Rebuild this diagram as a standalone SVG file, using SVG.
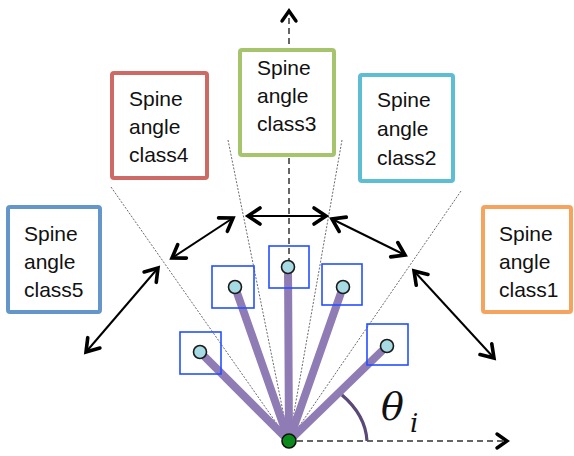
<svg xmlns="http://www.w3.org/2000/svg" width="574" height="456" viewBox="0 0 574 456">
  <style>
    .cls { fill: #ffffff; stroke-width: 4; }
    .lbl { font-family: "Liberation Sans", Arial, sans-serif; font-size: 21px; fill: #111111; }
    .dot { stroke: #444444; stroke-width: 0.8; stroke-dasharray: 2 1.5; fill: none; }
    .spoke { stroke: #8f7cb4; stroke-width: 8; stroke-linecap: round; }
    .bbox { fill: none; stroke: #2350ff; stroke-width: 1.6; }
    .tip { fill: #a7dbe4; stroke: #1a1a1a; stroke-width: 1.6; }
    .dbl { stroke: #000000; stroke-width: 2; fill: none; marker-start: url(#chev); marker-end: url(#chev); }
    .dash { stroke: #333333; stroke-width: 1.5; stroke-dasharray: 6 4; fill: none; marker-end: url(#chev2); }
  </style>
  <defs>
    <marker id="chev" markerUnits="userSpaceOnUse" markerWidth="24" markerHeight="24" viewBox="-16 -12 18 24" refX="0" refY="0" orient="auto-start-reverse">
      <path d="M -12 -8 L 0 0 L -12 8" fill="none" stroke="#000" stroke-width="3.6" stroke-linejoin="miter" stroke-linecap="round"/>
    </marker>
    <marker id="chev2" markerUnits="userSpaceOnUse" markerWidth="20" markerHeight="20" viewBox="-14 -10 16 20" refX="0" refY="0" orient="auto">
      <path d="M -10 -7 L 0 0 L -10 7" fill="none" stroke="#000" stroke-width="3.4" stroke-linejoin="miter" stroke-linecap="round"/>
    </marker>
  </defs>

  <!-- guide lines -->
  <g id="guides">
    <line class="dot" x1="111" y1="187" x2="289" y2="441"/>
    <line class="dot" x1="228" y1="140" x2="289" y2="441"/>
    <line class="dot" x1="342" y1="140" x2="289" y2="441"/>
    <line class="dot" x1="461" y1="191" x2="289" y2="441"/>
  </g>

  <!-- axes -->
  <g id="axes">
    <line class="dash" x1="289" y1="434" x2="289" y2="11"/>
    <line class="dash" x1="297" y1="441" x2="507" y2="441"/>
  </g>

  <!-- class boxes -->
  <g id="class4">
    <rect class="cls" x="112" y="73" width="95" height="105" rx="2" stroke="#cd6a66"/>
    <text class="lbl" x="129" y="106">Spine</text>
    <text class="lbl" x="129" y="134">angle</text>
    <text class="lbl" x="129" y="162">class4</text>
  </g>
  <g id="class3">
    <rect class="cls" x="240" y="50" width="94" height="105" rx="2" stroke="#a6c46c"/>
    <text class="lbl" x="257" y="75">Spine</text>
    <text class="lbl" x="257" y="103">angle</text>
    <text class="lbl" x="257" y="131">class3</text>
  </g>
  <g id="class2">
    <rect class="cls" x="360" y="75" width="93" height="106" rx="2" stroke="#5dbdd2"/>
    <text class="lbl" x="377" y="107">Spine</text>
    <text class="lbl" x="377" y="136">angle</text>
    <text class="lbl" x="377" y="165">class2</text>
  </g>
  <g id="class5">
    <rect class="cls" x="8" y="207" width="92" height="105" rx="2" stroke="#6596c9"/>
    <text class="lbl" x="24" y="241">Spine</text>
    <text class="lbl" x="24" y="269">angle</text>
    <text class="lbl" x="24" y="297">class5</text>
  </g>
  <g id="class1">
    <rect class="cls" x="483" y="207" width="88" height="105" rx="2" stroke="#f6a45d"/>
    <text class="lbl" x="499" y="241">Spine</text>
    <text class="lbl" x="499" y="269">angle</text>
    <text class="lbl" x="499" y="297">class1</text>
  </g>

  <!-- double arrows -->
  <g id="connectors">
    <line class="dbl" x1="248" y1="216" x2="326" y2="216"/>
    <line class="dbl" x1="172" y1="258" x2="233" y2="218"/>
    <line class="dbl" x1="332" y1="219" x2="405" y2="255"/>
    <line class="dbl" x1="158" y1="268" x2="86" y2="352"/>
    <line class="dbl" x1="414" y1="271" x2="494" y2="358"/>
  </g>

  <!-- spokes -->
  <g id="spokes">
    <line class="spoke" x1="289" y1="441" x2="200" y2="352"/>
    <line class="spoke" x1="289" y1="441" x2="235" y2="287"/>
    <line class="spoke" x1="289" y1="441" x2="288" y2="267"/>
    <line class="spoke" x1="289" y1="441" x2="343" y2="287"/>
    <line class="spoke" x1="289" y1="441" x2="387" y2="346"/>
  </g>

  <g id="spine1">
    <rect class="bbox" x="180" y="332" width="41" height="42"/>
    <circle class="tip" cx="200" cy="352" r="6.5"/>
  </g>
  <g id="spine2">
    <rect class="bbox" x="212" y="266" width="42" height="42"/>
    <circle class="tip" cx="235" cy="287" r="6.5"/>
  </g>
  <g id="spine3">
    <rect class="bbox" x="269" y="246" width="40" height="42"/>
    <circle class="tip" cx="288" cy="267" r="6.5"/>
  </g>
  <g id="spine4">
    <rect class="bbox" x="322" y="264" width="40" height="41"/>
    <circle class="tip" cx="343" cy="287" r="6.5"/>
  </g>
  <g id="spine5">
    <rect class="bbox" x="367" y="324" width="41" height="41"/>
    <circle class="tip" cx="387" cy="346" r="6.5"/>
  </g>

  <!-- angle -->
  <g id="angle">
    <path d="M 342 395 C 356 407 366 423 367 441" fill="none" stroke="#594878" stroke-width="3.2"/>
    <text x="381" y="420" font-family="'DejaVu Serif', 'Liberation Serif', serif" font-style="italic" font-size="38" fill="#111">θ</text>
    <text x="410" y="432" font-family="'DejaVu Serif', 'Liberation Serif', serif" font-style="italic" font-size="26" fill="#111">i</text>
  </g>

  <g id="origin">
    <circle cx="289" cy="441" r="7" fill="#0b8a1c" stroke="#111" stroke-width="1.6"/>
  </g>
</svg>
